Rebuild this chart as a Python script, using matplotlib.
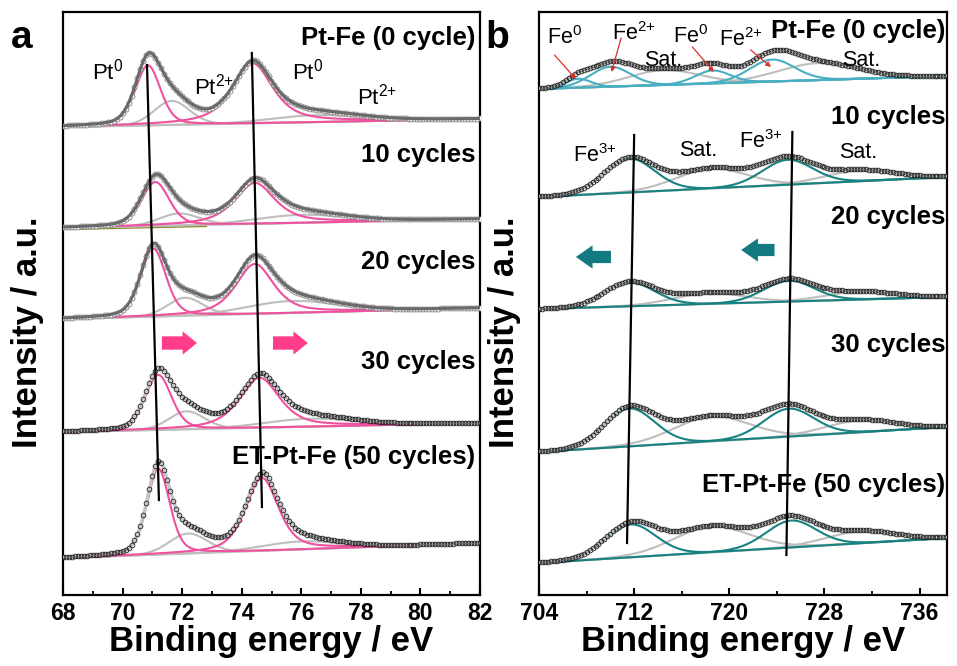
import numpy as np
import matplotlib
matplotlib.use("Agg")
import matplotlib.pyplot as plt

plt.rcParams['font.family'] = ['Liberation Sans', 'DejaVu Sans']
plt.rcParams['mathtext.fontset'] = 'custom'
plt.rcParams['mathtext.rm'] = 'Liberation Sans'
plt.rcParams['mathtext.it'] = 'Liberation Sans:italic'
plt.rcParams['mathtext.bf'] = 'Liberation Sans:bold'
plt.rcParams['mathtext.default'] = 'regular'

# ---------------- data: Pt 4f (panel a) ----------------
pt_samples = ["Pt-Fe (0 cycle)", "10 cycles", "20 cycles", "30 cycles", "ET-Pt-Fe (50 cycles)"]
pt_bg_start = [468, 367, 276, 163, 37]     # background at 68 eV (offset units)
pt_bg_end = [476, 376, 287, 172, 52]       # background at 82 eV
pt_species = ["Pt0", "Pt2+", "Pt0", "Pt2+"]
pt_center = [[70.85, 71.65, 74.37, 76.5],
             [71.10, 71.90, 74.44, 76.0],
             [71.03, 72.10, 74.44, 75.7],
             [71.20, 72.15, 74.60, 76.3],
             [71.20, 72.20, 74.68, 76.0]]
pt_height = [[60, 24, 60, 7],
             [44, 12, 41, 8],
             [68, 18, 50, 12],
             [55, 18, 50, 8],
             [86, 20, 73, 8]]
pt_fwhm = [[1.0, 1.4, 1.6, 3.5],
           [1.1, 1.6, 1.6, 3.5],
           [1.0, 1.4, 1.5, 3.5],
           [1.05, 1.4, 1.6, 3.5],
           [0.9, 1.5, 1.3, 3.0]]
pt_lorentz = [[0.3, 0.1, 0.7, 0.0],
              [0.3, 0.1, 0.7, 0.0],
              [0.3, 0.1, 0.6, 0.0],
              [0.3, 0.1, 0.6, 0.0],
              [0.35, 0.1, 0.5, 0.0]]
pt_guide1_x = [70.82, 71.22]
pt_guide1_y = [530, 95]
pt_guide2_x = [74.34, 74.68]
pt_guide2_y = [542, 88]
pt_arrow_tail_x = [71.32, 75.05]
pt_arrow_head_x = [72.50, 76.22]
pt_arrow_y = [252, 252]
pt_olive_x = [68.2, 72.8]
pt_olive_y = [366, 369]
pt_peak_labels = [r"Pt$^{0}$", r"Pt$^{2{+}}$", r"Pt$^{0}$", r"Pt$^{2{+}}$"]
pt_peak_label_x = [68.97, 72.4, 75.68, 77.87]
pt_peak_label_y = [523, 508, 523, 498]
pt_sample_label_y = [557, 440, 333, 233, 138]

# ---------------- data: Fe 2p (panel b) ----------------
fe_samples = ["Pt-Fe (0 cycle)", "10 cycles", "20 cycles", "30 cycles", "ET-Pt-Fe (50 cycles)"]
fe_bg_start = [506, 398, 286, 143, 32]
fe_bg_end = [519, 418, 298, 168, 57]
fe_species = [["Fe0", "Fe2+", "Sat", "Fe0", "Fe2+", "Sat"],
              ["Fe3+", "Sat", "Fe3+", "Sat"],
              ["Fe3+", "Sat", "Fe3+", "Sat"],
              ["Fe3+", "Sat", "Fe3+", "Sat"],
              ["Fe3+", "Sat", "Fe3+", "Sat"]]
fe_center = [[707.3, 710.0, 714.5, 718.6, 723.6, 727.5],
             [711.6, 718.5, 724.9, 731.0],
             [711.6, 718.3, 725.0, 731.0],
             [711.6, 718.5, 725.0, 731.0],
             [711.7, 718.5, 725.2, 731.0]]
fe_height = [[9, 20, 15, 13, 22, 17],
             [34, 20, 25, 11],
             [24, 11, 21, 8],
             [38, 25, 28, 12],
             [33, 26, 27, 12]]
fe_fwhm = [[2.5, 4.0, 7.0, 3.5, 4.5, 8.0],
           [5.0, 7.0, 5.0, 7.0],
           [5.0, 7.0, 5.0, 7.0],
           [5.0, 7.5, 5.0, 7.0],
           [5.0, 7.5, 5.0, 7.0]]
fe_guide1_x = [712.0, 711.4]
fe_guide1_y = [460, 52]
fe_guide2_x = [725.3, 724.8]
fe_guide2_y = [463, 40]
fe_arrow_tail_x = [710.05, 723.8]
fe_arrow_head_x = [707.1, 721.0]
fe_arrow_y = [338, 345]
fe_red_tail = [(705.3, 540), (710.9, 557), (716.9, 548), (721.8, 545)]
fe_red_head = [(707.1, 516), (710.1, 523), (718.7, 523), (723.5, 528)]
fe_peak_labels = [r"Fe$^{0}$", r"Fe$^{2{+}}$", "Sat.", r"Fe$^{0}$", r"Fe$^{2{+}}$", "Sat.",
                  r"Fe$^{3{+}}$", "Sat.", r"Fe$^{3{+}}$", "Sat."]
fe_peak_label_x = [704.67, 710.13, 712.8, 715.3, 719.1, 729.5, 706.9, 715.8, 720.8, 729.2]
fe_peak_label_y = [557, 561, 535, 558, 555, 535, 439, 445, 453, 443]
fe_sample_label_y = [564, 478, 378, 250, 110]

# ---------------- helpers ----------------
def pvoigt(x, c, h, w, eta):
    d = (x - c) / w
    return h * (eta / (1 + 4 * d ** 2) + (1 - eta) * np.exp(-4 * np.log(2) * d ** 2))

PINK = '#F0509E'
GREY = '#BEBEBE'
TEAL = '#17827F'
TEAL_L = '#48AFC2'

W, H = 957, 666
fig = plt.figure(figsize=(W / 100, H / 100), dpi=100)
axa = fig.add_axes([63 / W, (H - 595) / H, (480 - 63) / W, (595 - 12) / H])
axb = fig.add_axes([539 / W, (H - 595) / H, (947 - 539) / W, (595 - 12) / H])

# ---------------- panel a ----------------
axa.plot(pt_olive_x, pt_olive_y, color='#8C8C28', lw=1.6, zorder=1)
xa = np.arange(68.0, 82.0001, 0.02)
for i in range(len(pt_samples)):
    bg = pt_bg_start[i] + (pt_bg_end[i] - pt_bg_start[i]) * (xa - 68) / 14.0
    env = bg.copy()
    for j in range(4):
        comp = pvoigt(xa, pt_center[i][j], pt_height[i][j], pt_fwhm[i][j], pt_lorentz[i][j])
        env += comp
        col = PINK if pt_species[j] == "Pt0" else GREY
        axa.plot(xa, bg + comp, color=col, lw=1.5, zorder=3 if col == PINK else 2)
    axa.plot(xa, bg, color=GREY, lw=1.5, zorder=2)
    if i < 3:
        axa.plot(xa[::5], env[::5], ls='none', marker='o', ms=3.6, mfc='white',
                 mec='#808080', mew=0.6, zorder=4)
        axa.plot(xa, env, color='#6A6A6A', lw=2.2, zorder=5)
    else:
        axa.plot(xa, env, color='#C4C4C4', lw=2.4, zorder=4)
        axa.plot(xa[::5], env[::5], ls='none', marker='o', ms=3.4, mfc='none',
                 mec='#202020', mew=0.6, zorder=5)
    axa.text(81.85, pt_sample_label_y[i], pt_samples[i], ha='right', va='center',
             fontsize=18.5, fontweight='bold', zorder=8)

axa.plot(pt_guide1_x, pt_guide1_y, color='black', lw=1.6, zorder=7)
axa.plot(pt_guide2_x, pt_guide2_y, color='black', lw=1.6, zorder=7)
for k in range(2):
    axa.annotate('', xy=(pt_arrow_head_x[k], pt_arrow_y[k]), xytext=(pt_arrow_tail_x[k], pt_arrow_y[k]),
                 arrowprops=dict(arrowstyle='simple,head_length=0.65,head_width=1.05,tail_width=0.6',
                                 color='#FF3D8B', lw=0, shrinkA=0, shrinkB=0, mutation_scale=16), zorder=8)
for k in range(4):
    axa.text(pt_peak_label_x[k], pt_peak_label_y[k], pt_peak_labels[k], ha='left', va='center',
             fontsize=16, zorder=8)

axa.set_xlim(68, 82)
axa.set_ylim(0, 583)
axa.set_xticks(np.arange(68, 83, 2))
axa.set_xticks(np.arange(69, 82, 2), minor=True)

# ---------------- panel b ----------------
xb = np.arange(704.0, 738.3001, 0.05)
for i in range(len(fe_samples)):
    bg = fe_bg_start[i] + (fe_bg_end[i] - fe_bg_start[i]) * (xb - 704) / 34.3
    env = bg.copy()
    for j in range(len(fe_center[i])):
        comp = pvoigt(xb, fe_center[i][j], fe_height[i][j], fe_fwhm[i][j], 0.1)
        env += comp
        sp = fe_species[i][j]
        if sp == "Sat":
            col = GREY
        else:
            col = TEAL_L if i == 0 else TEAL
        axb.plot(xb, bg + comp, color=col, lw=1.5, zorder=3 if col != GREY else 2)
    axb.plot(xb, bg, color=GREY, lw=1.5, zorder=2)
    axb.plot(xb, env, color='#BDBDBD', lw=2.4, zorder=4)
    axb.plot(xb[::5], env[::5], ls='none', marker='o', ms=3.4, mfc='none',
             mec='#202020', mew=0.6, zorder=5)
    axb.text(738.15, fe_sample_label_y[i], fe_samples[i], ha='right', va='center',
             fontsize=18.5, fontweight='bold', zorder=8)

axb.plot(fe_guide1_x, fe_guide1_y, color='black', lw=1.6, zorder=7)
axb.plot(fe_guide2_x, fe_guide2_y, color='black', lw=1.6, zorder=7)
for k in range(2):
    axb.annotate('', xy=(fe_arrow_head_x[k], fe_arrow_y[k]), xytext=(fe_arrow_tail_x[k], fe_arrow_y[k]),
                 arrowprops=dict(arrowstyle='simple,head_length=0.75,head_width=1.05,tail_width=0.55',
                                 color='#127A80', lw=0, shrinkA=0, shrinkB=0, mutation_scale=16), zorder=8)
for k in range(4):
    axb.annotate('', xy=fe_red_head[k], xytext=fe_red_tail[k],
                 arrowprops=dict(arrowstyle='-|>', color='#E0302A', lw=0.9,
                                 shrinkA=0, shrinkB=0, mutation_scale=7), zorder=8)
for k in range(len(fe_peak_labels)):
    axb.text(fe_peak_label_x[k], fe_peak_label_y[k], fe_peak_labels[k], ha='left', va='center',
             fontsize=15.5, zorder=8)

axb.set_xlim(704, 738.3)
axb.set_ylim(0, 583)
axb.set_xticks(np.arange(704, 737, 8))
axb.set_xticks(np.arange(708, 737, 8), minor=True)

for ax in (axa, axb):
    ax.set_yticks([])
    for s in ax.spines.values():
        s.set_linewidth(1.6)
    ax.tick_params(axis='x', which='major', direction='in', length=5, width=1.5, pad=5, labelsize=16.5)
    ax.tick_params(axis='x', which='minor', direction='in', length=3, width=1.3)
    for t in ax.get_xticklabels():
        t.set_fontweight('bold')
    ax.set_xlabel('Binding energy / eV', fontsize=25, fontweight='bold', labelpad=0)
    ax.set_ylabel('Intensity / a.u.', fontsize=25, fontweight='bold')
    ax.yaxis.set_label_coords(-0.045, 0.45)

fig.text(22 / W, 1 - 38 / H, 'a', fontsize=28, fontweight='bold', ha='center', va='center')
fig.text(497 / W, 1 - 38 / H, 'b', fontsize=28, fontweight='bold', ha='center', va='center')

fig.savefig('out.png', dpi=100)
